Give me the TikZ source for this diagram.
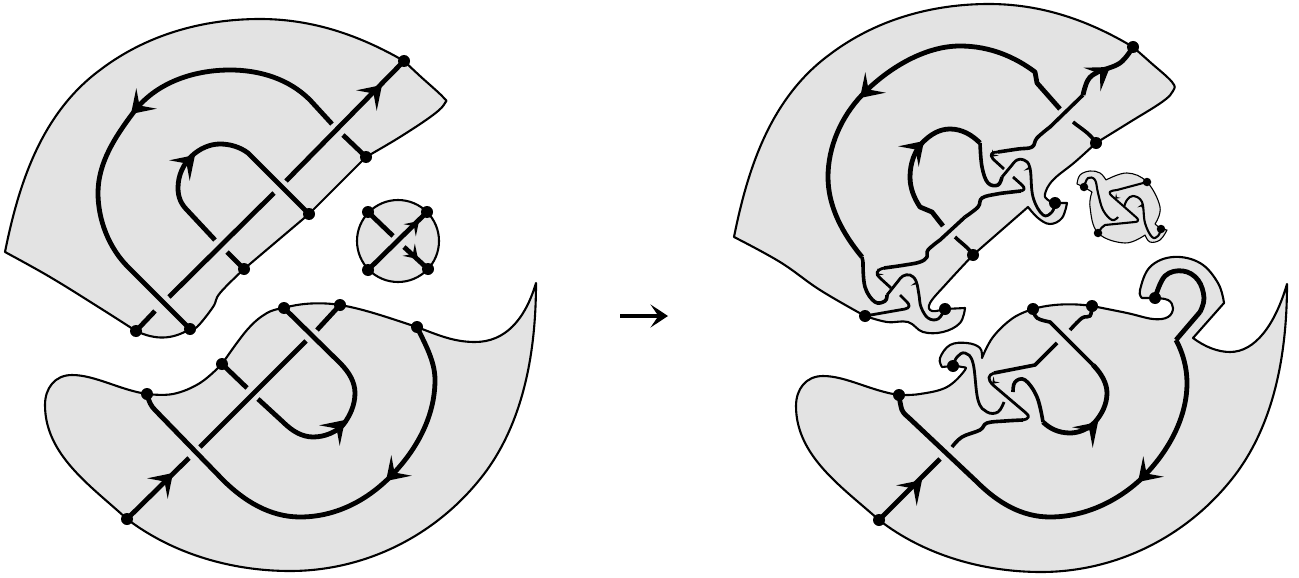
\documentclass[tikz,border=0pt]{standalone}
\begin{document}
\begin{tikzpicture}[x=1pt,y=-1pt,line join=round,
  sm/.style={smooth,tension=.65},
  piece/.style={fill=black!11,draw=black,line width=2.1pt},
  disc/.style={fill=black!11,draw=black,line width=1.1pt},
  strand/.style={draw=black,line width=4.8pt,line cap=butt},
  mid/.style={draw=black,line width=3.6pt,line cap=butt},
  fine/.style={draw=black,line width=2.8pt,line cap=butt},
  tiny/.style={draw=black,line width=2.1pt,line cap=butt},
  dotn/.style={circle,fill=black,inner sep=0pt,minimum size=12pt},
  dots/.style={circle,fill=black,inner sep=0pt,minimum size=8.5pt},
  head/.pic={\fill (0,0)--(-22,14.5)--(-12,0)--(-22,-14.5)--cycle;}]
\useasboundingbox (0,0) rectangle (1299,578);
% ---- named vertices
\foreach \n/\p in {a1/{136,331},a2/{190,329},a3/{244,269},a4/{309,214},a5/{366,157},a6/{404,61},
  b1/{368,212},b2/{427,212},b3/{368,270},b4/{428,269},
  c1/{127,519},c2/{147,394},c3/{222,364},c4/{284,308},c5/{340,305},c6/{417,327},
  d1/{865,316},d2/{945,309},d3/{973,255},d4/{1055,203},d5/{1096,143},d6/{1133,47},
  e1/{1084,187},e2/{1147,182},e3/{1098,233},e4/{1161,229},
  f1/{879,520},f2/{899,395},f3/{953,366},f4/{1033,309},f5/{1092,306},f6/{1155,298}}
  {\expandafter\coordinate\expandafter(\n) at (\p);}
% ---- left upper piece
\path[piece] (5,252) .. controls (19,182) and (42,113) .. (100,70)
  .. controls (146,35) and (202,19) .. (260,19)
  .. controls (312,19) and (359,35) .. (a6)
  -- plot[sm] coordinates {(a6)(420,76)(443,97)(445,103)(433,115)(400,137)(a5)}
  -- (a4) -- (a3)
  -- plot[sm] coordinates {(a3)(220,293)(213,307)(197,327)(a2)}
  .. controls (172,340) and (155,340) .. (a1)
  -- plot[sm] coordinates {(a1)(100,308)(50,277)(5,252)} -- cycle;
\draw[strand] (a1) -- (155,311);
\draw[strand] (169,297) -- (274,193);
\draw[strand] (286,181) -- (a6);
\draw[strand] (a2) -- (128,267) .. controls (109,248) and (98,220) .. (98,193)
  .. controls (98,163) and (115,137) .. (133,113)
  .. controls (155,83) and (193,70) .. (230,70)
  .. controls (260,70) and (289,79) .. (310,100) -- (332,124);
\draw[strand] (343,135) -- (a5);
\draw[strand] (a4) -- (248,153) .. controls (240,147) and (230,144) .. (220,144)
  .. controls (200,144) and (178,162) .. (178,188)
  .. controls (178,197) and (181,204) .. (187,210) -- (215,240);
\draw[strand] (227,252) -- (a3);
\pic[rotate=45] at (382,85) {head};
\pic[rotate=225] at (131,114) {head};
\pic[rotate=45] at (195,155) {head};
% ---- left small disc
\node[disc,circle,line width=2.1pt,minimum size=82pt,inner sep=0pt] (bd) at (398,241) {};
\draw[strand] (b3) -- (b2);
\draw[strand] (b1) -- (393,236);
\draw[strand] (404,247) -- (b4);
\pic[rotate=45,scale=.6] at (419,221) {head};
\pic[rotate=-45,scale=.6] at (418,259) {head};
% ---- left lower piece
\path[piece] (536,283) .. controls (536,348) and (525,417) .. (487,470)
  .. controls (441,533) and (368,571) .. (290,571)
  .. controls (232,571) and (173,554) .. (c1)
  .. controls (91,486) and (45,455) .. (45,405)
  .. controls (45,388) and (55,375) .. (72,375)
  .. controls (95,375) and (120,390) .. (c2)
  -- plot[sm] coordinates {(c2)(173,394)(200,383)(c3)}
  -- plot[sm] coordinates {(c3)(247,330)(267,313)(c4)}
  .. controls (300,303) and (322,302) .. (c5)
  .. controls (365,309) and (395,320) .. (c6)
  .. controls (440,336) and (455,342) .. (475,342)
  .. controls (505,342) and (525,320) .. (536,283) -- cycle;
\draw[strand] (c1) -- (189,458);
\draw[strand] (200,447) -- (306,341);
\draw[strand] (317,330) -- (c5);
\draw[strand] (c2) .. controls (149,402) and (151,406) .. (155,410) -- (223,480)
  .. controls (244,501) and (270,517) .. (300,517)
  .. controls (334,517) and (365,502) .. (390,477)
  .. controls (416,451) and (435,417) .. (435,380)
  .. controls (435,361) and (425,344) .. (c6);
\draw[strand] (c4) -- (340,363) .. controls (349,372) and (355,382) .. (355,393)
  .. controls (355,405) and (350,416) .. (343,425)
  .. controls (336,432) and (325,437) .. (313,437)
  .. controls (302,437) and (292,431) .. (283,422) -- (258,399);
\draw[strand] (247,388) -- (c3);
\pic[rotate=45] at (173,473) {head};
\pic[rotate=225] at (386,481) {head};
\pic[rotate=45] at (345,420) {head};
% ---- centre arrow
\coordinate (m1) at (620,316);
\coordinate (m2) at (668,316);
\draw[draw=black,line width=3.5pt] (m1) -- (660,316);
\pic[scale=.8] at (m2) {head};
% ---- right upper piece
\path[piece] (734,237) .. controls (748,167) and (771,98) .. (829,55)
  .. controls (875,20) and (931,4) .. (989,4)
  .. controls (1041,4) and (1088,20) .. (d6)
  -- plot[sm] coordinates {(d6)(1150,62)(1172,82)(1173,91)(1162,102)(1130,122)(d5)}
  -- plot[sm] coordinates {(d5)(1075,162)(1053,180)(1045,194)(1048,200)(d4)}
  -- (1067,203)
  -- plot[sm] coordinates {(1067,203)(1062,218)(1050,224)(1038,218)(1028,207)}
  -- (d3)
  -- plot[sm] coordinates {(d3)(947,283)(930,303)(932,311)(d2)}
  -- (965,308)
  -- plot[sm] coordinates {(965,308)(960,323)(943,332)(923,332)(908,322)(887,322)(d1)}
  -- plot[sm] coordinates {(d1)(820,290)(780,262)(734,237)} -- cycle;
% outer arc into first knot
\draw[strand] (1060,109) -- (1037,83) -- (1035,72) .. controls (1015,57) and (990,46) .. (960,46)
  .. controls (925,46) and (888,68) .. (862,95)
  .. controls (841,117) and (828,147) .. (828,177)
  .. controls (828,207) and (843,234) .. (862,257);
\draw[mid] (862,257) -- (863,262) plot[sm] coordinates {(863,262)(865,287)(875,302)(885,301)(887,295)};
\draw[fine] (887,295) -- (899,280) plot[sm] coordinates {(899,280)(903,276)(910,275)(916,281)(919,295)(921,307)(928,318)(938,319)(d2)};
\draw[mid] (1073,122) .. controls (1080,128) and (1090,133) .. (d5);
% inner arc into second knot
\draw[strand] (943,226) -- (932,212) -- (920,207) .. controls (914,198) and (910,188) .. (910,177)
  .. controls (910,163) and (915,150) .. (923,142)
  .. controls (931,134) and (940,129) .. (950,129)
  .. controls (962,129) and (972,135) .. (980,143);
\draw[mid] (980,143) plot[sm] coordinates {(980,143)(982,167)(988,183)(998,185)(1002,177)};
\draw[fine] (1002,177) -- (1012,165) plot[sm] coordinates {(1012,165)(1017,160)(1024,160)(1030,168)(1033,197)(1043,215)(1052,212)(d4)};
\draw[mid] (955,237) .. controls (961,243) and (968,247) .. (d3);
% long strand
\draw[fine] (d1) -- (905,309) .. controls (910,308) and (910,305) .. (907,302) -- (900,295);
\draw[fine] (891,288) -- (880,278) .. controls (875,274) and (876,270) .. (884,268);
\draw[mid] (884,268) plot[sm] coordinates {(884,268)(905,265)(920,262)(927,257)(928,250)(940,240)} -- (965,217);
\draw[mid] (965,217) plot[sm] coordinates {(965,217)(978,207)(982,198)(997,194)(1012,192)(1021,191)};
\draw[fine] (1021,191) .. controls (1025,190) and (1025,188) .. (1022,185) -- (1013,177);
\draw[fine] (1004,169) -- (993,159) .. controls (989,154) and (992,152) .. (998,152);
\draw[mid] (998,152) plot[sm] coordinates {(998,152)(1018,149)(1032,147)(1037,138)(1050,127)} -- (1083,95);
\draw[strand] (1083,95) plot[sm] coordinates {(1083,95)(1088,80)(1098,72)(1120,63)(d6)};
\pic[rotate=35] at (1110,67) {head};
\pic[rotate=225] at (860,98) {head};
\pic[rotate=45] at (924,141) {head};
\pic[rotate=225,scale=.3] at (876,276) {head};
\pic[rotate=225,scale=.3] at (991,157) {head};
\pic[rotate=70,scale=.3] at (917,281) {head};
\pic[rotate=70,scale=.3] at (1030,166) {head};
% ---- right small disc with fingers
\path[disc] plot[sm] coordinates {(1106,180)(1127,173)(e2)(1160,207)(1155,224)} -- (e4) -- (1167,230)
  -- plot[sm] coordinates {(1167,230)(1160,240)(1150,242)(1145,235)}
  -- plot[sm] coordinates {(1145,235)(1125,243)(e3)(1090,207)(1092,192)} -- (e1) -- (1077,184)
  -- plot[sm] coordinates {(1077,184)(1080,175)(1090,171)(1100,173)(1106,180)} -- cycle;
\draw[tiny] (e1) plot[sm] coordinates {(e1)(1088,178)(1095,180)(1098,193)(1103,210)(1112,220)(1118,217)};
\draw[tiny] (1124,207) plot[sm] coordinates {(1124,207)(1127,200)(1133,196)(1142,202)(1145,223)(1152,237)(1158,236)(e4)};
\draw[tiny] (e3) .. controls (1101,228) and (1103,226) .. (1105,225) -- (1135,222) .. controls (1138,222) and (1139,220) .. (1137,218) -- (1113,197) .. controls (1107,192) and (1109,191) .. (1117,190) -- (e2);
\pic[rotate=225,scale=.22] at (1115,199) {head};
\pic[rotate=70,scale=.22] at (1142,204) {head};
% ---- right lower piece
\path[piece] (1287,284) .. controls (1287,349) and (1276,418) .. (1238,471)
  .. controls (1192,534) and (1119,572) .. (1041,572)
  .. controls (983,572) and (924,555) .. (f1)
  .. controls (842,487) and (796,456) .. (796,406)
  .. controls (796,389) and (806,376) .. (823,376)
  .. controls (846,376) and (871,391) .. (f2)
  -- plot[sm] coordinates {(f2)(920,394)(947,387)(965,370)(962,367)(f3)}
  -- (942,367)
  -- plot[sm] coordinates {(942,367)(940,358)(950,345)(967,343)(980,348)(982,358)}
  -- plot[sm] coordinates {(982,358)(993,337)(1013,318)(f4)}
  .. controls (1050,304) and (1072,303) .. (f5)
  -- plot[sm] coordinates {(f5)(1127,313)(1153,319)(1168,317)(1173,308)(1168,300)(f6)}
  -- (1142,298)
  -- plot[sm] coordinates {(1142,298)(1140,290)(1150,267)(1173,257)(1200,263)(1218,283)(1224,303)}
  -- (1193,338)
  .. controls (1205,347) and (1218,352) .. (1230,352)
  .. controls (1255,352) and (1275,325) .. (1287,284) -- cycle;
\draw[strand] (f1) -- (940,459);
\draw[mid] (952,447) plot[sm] coordinates {(952,447)(962,437)(980,430)(987,423)(1005,421)(1023,420)};
\draw[fine] (1023,420) .. controls (1029,419) and (1030,416) .. (1026,413) -- (993,385) .. controls (987,379) and (988,375) .. (994,373);
\draw[mid] (994,373) -- (1035,365) -- (1057,343);
\draw[mid] (1070,330) plot[sm] coordinates {(1070,330)(1082,318)(1090,316)(f5)};
\draw[strand] (f2) plot[sm] coordinates {(f2)(902,410)(908,417)} -- (977,482)
  .. controls (998,503) and (1022,517) .. (1050,517)
  .. controls (1084,517) and (1116,502) .. (1140,480)
  .. controls (1166,455) and (1187,420) .. (1187,383)
  .. controls (1187,368) and (1183,353) .. (1176,340);
\draw[strand] (1176,340) -- (1200,312) plot[sm] coordinates {(1200,312)(1204,298)(1198,280)(1183,271)(1165,276)(f6)};
\draw[mid] (f4) plot[sm] coordinates {(f4)(1037,318)(1050,322)} -- (1093,365);
\draw[strand] (1093,365) .. controls (1101,373) and (1107,383) .. (1107,393)
  .. controls (1107,404) and (1102,414) .. (1095,422)
  .. controls (1088,429) and (1079,433) .. (1070,433)
  .. controls (1058,433) and (1049,428) .. (1043,422);
\draw[mid] (1043,422) plot[sm] coordinates {(1043,422)(1037,397)(1025,380)(1015,382)(1013,392)};
\draw[fine] (1004,402) plot[sm] coordinates {(1004,402)(998,412)(987,412)(978,400)(973,363)(965,353)(957,357)(f3)};
\pic[rotate=45] at (922,480) {head};
\pic[rotate=225] at (1138,482) {head};
\pic[rotate=45] at (1098,422) {head};
\pic[rotate=225,scale=.3] at (992,384) {head};
% ---- dots
\foreach \n in {a1,a2,a3,a4,a5,a6,b1,b2,b3,b4,c1,c2,c3,c4,c5,c6,d1,d2,d3,d4,d5,d6,f1,f2,f3,f4,f5,f6}
  \node[dotn] (n\n) at (\n) {};
\foreach \n in {e1,e2,e3,e4}
  \node[dots] (n\n) at (\n) {};
\end{tikzpicture}
\end{document}
